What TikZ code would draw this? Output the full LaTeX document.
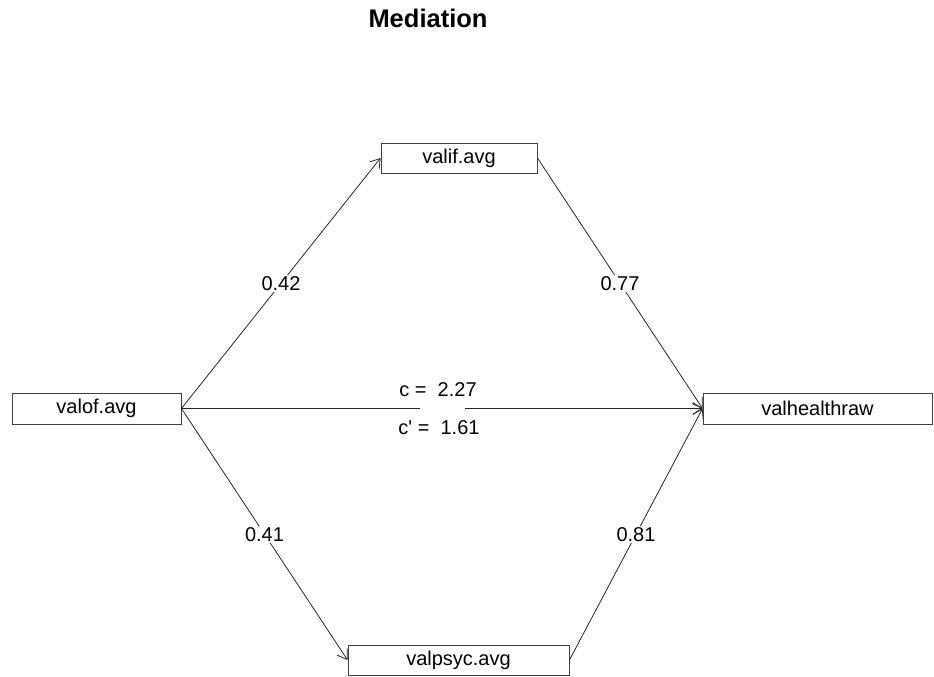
\documentclass[tikz,border=0pt]{standalone}
\usepackage{fontspec}
\setmainfont{Liberation Sans}[Ligatures=TeXOff]
\usetikzlibrary{arrows.meta}
\begin{document}
\begin{tikzpicture}[x=1pt,y=-1pt,
  box/.style={draw=black!75, line width=0.9pt, minimum height=30pt, inner sep=0pt,
    font=\fontsize{20}{24}\selectfont},
  link/.style={draw=black!85, line width=0.8pt},
  arr/.style={link, -{Straight Barb[length=9pt,width=12pt,line width=0.8pt]}},
  lbl/.style={fill=white, inner sep=1.5pt, font=\fontsize{20}{24}\selectfont},
  ctext/.style={inner sep=0pt, font=\fontsize{20}{24}\selectfont}]
\useasboundingbox (0,0) rectangle (934,677);
\node[font=\bfseries\fontsize{25.5}{30}\selectfont, anchor=base] (title) at (428,28) {Mediation};
\node[box, minimum width=156pt] (valif) at (459,158) {valif.avg};
\node[box, minimum width=169pt, minimum height=31pt] (valof) at (96.5,408.5) {valof.avg};
\node[box, minimum width=229pt, minimum height=31pt] (valh) at (817.5,408.5) {valhealthraw};
\node[box, minimum width=221pt] (valpsyc) at (458.5,660) {valpsyc.avg};
\draw[arr] (valof.east) -- node[lbl] {0.42} (valif.west);
\draw[arr] (valif.east) -- node[lbl] {0.77} (valh.west);
\draw[arr] (valof.east) -- node[lbl] {0.41} (valpsyc.west);
\draw[arr] (valpsyc.east) -- node[lbl] {0.81} (valh.west);
\coordinate (gapL) at (420,408.5);
\coordinate (gapR) at (465,408.5);
\draw[link] (valof.east) -- (gapL);
\draw[arr] (gapR) -- (valh.west);
\node[ctext] (c) at (438,390) {c =\ \ 2.27};
\node[ctext] (cp) at (439,428) {c' =\ \ 1.61};
\end{tikzpicture}
\end{document}
